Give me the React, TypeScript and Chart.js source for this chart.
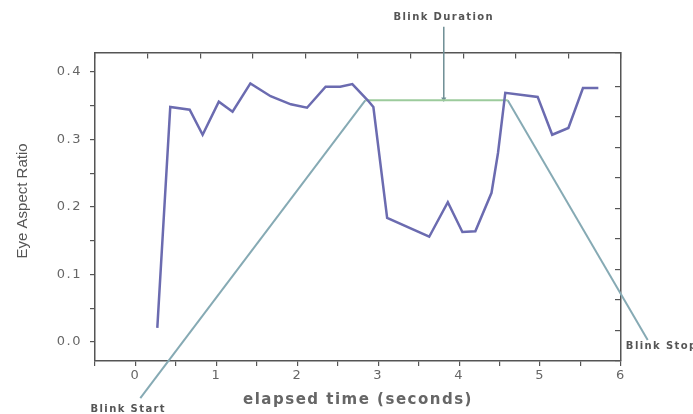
import React, { useEffect, useRef } from "react";
import { Chart, registerables } from "chart.js";

Chart.register(...registerables);

// Eye aspect ratio series
const timeSeconds = [0.27, 0.43, 0.67, 0.83, 1.03, 1.2, 1.42, 1.67, 1.92, 2.12, 2.35, 2.53, 2.68, 2.87, 2.94, 3.11, 3.63, 3.86, 4.04, 4.2, 4.4, 4.48, 4.57, 4.97, 5.15, 5.35, 5.53, 5.72];
const eyeAspectRatio = [0.021, 0.348, 0.344, 0.307, 0.356, 0.341, 0.383, 0.364, 0.352, 0.347, 0.378, 0.378, 0.382, 0.358, 0.348, 0.184, 0.156, 0.207, 0.163, 0.164, 0.221, 0.28, 0.369, 0.363, 0.307, 0.317, 0.376, 0.376];

// Annotation lines
const durationLineX = [2.84, 4.6];
const durationLineY = [0.358, 0.358];
const startLineX = [0.06, 2.84];
const startLineY = [-0.083, 0.358];
const stopLineX = [4.6, 6.33];
const stopLineY = [0.358, 0.003];
const arrowX = [3.81, 3.81];
const arrowY = [0.467, 0.36];

// Annotation labels
const annotationTexts = ["Blink Duration", "Blink Start", "Blink Stop"];
const annotationX = [3.81, -0.556, 6.06];
const annotationY = [0.481, -0.1, -0.007];

// Axes
const xTitle = "elapsed time (seconds)";
const yTitle = "Eye Aspect Ratio";
const xMin = -0.5;
const xMax = 6;
const yMin = -0.028;
const yMax = 0.428;

const zip = (xs: number[], ys: number[]) => xs.map((x, i) => ({ x, y: ys[i] }));

const textPlugin = {
  id: "annotText",
  beforeDraw(chart: any) {
    chart.ctx.letterSpacing = "1.5px";
  },
  afterDraw(chart: any) {
    const { ctx, scales } = chart;
    const xs = scales.x;
    const ys = scales.y;
    ctx.save();
    ctx.letterSpacing = "1.4px";
    ctx.fillStyle = "#555";
    ctx.font = "bold 10px 'DejaVu Sans'";
    ctx.textBaseline = "middle";
    annotationTexts.forEach((t, i) => {
      ctx.textAlign = i === 0 ? "center" : "left";
      ctx.fillText(t, xs.getPixelForValue(annotationX[i]), ys.getPixelForValue(annotationY[i]));
    });
    // y axis title
    ctx.letterSpacing = "0px";
    ctx.font = "15px 'Liberation Sans'";
    ctx.fillStyle = "#555";
    ctx.textAlign = "center";
    ctx.translate(23, ys.getPixelForValue(0.209));
    ctx.rotate(-Math.PI / 2);
    ctx.fillText(yTitle, 0, 0);
    ctx.restore();
  },
};

export default function App() {
  const ref = useRef<HTMLCanvasElement | null>(null);
  useEffect(() => {
    if (!ref.current) return;
    const tickFont = { family: "'DejaVu Sans'", size: 13 };
    const chart = new Chart(ref.current, {
      type: "line",
      data: {
        datasets: [
          {
            data: zip(timeSeconds, eyeAspectRatio),
            borderColor: "#6b6bb0",
            borderWidth: 2.5,
            pointRadius: 0,
            tension: 0,
          },
          {
            data: zip(durationLineX, durationLineY),
            borderColor: "#9ccb9c",
            borderWidth: 2,
            pointRadius: 0,
            clip: false as any,
          },
          {
            data: zip(startLineX, startLineY),
            borderColor: "#86aab4",
            borderWidth: 2,
            pointRadius: 0,
            clip: false as any,
          },
          {
            data: zip(stopLineX, stopLineY),
            borderColor: "#86aab4",
            borderWidth: 2,
            pointRadius: 0,
            clip: false as any,
          },
          {
            data: zip(arrowX, arrowY),
            borderColor: "#6f8f95",
            borderWidth: 1.5,
            pointRadius: [0, 3],
            pointStyle: "triangle",
            rotation: 180,
            pointBackgroundColor: "#6f8f95",
            pointBorderWidth: 0,
            clip: false as any,
          },
        ],
      },
      options: {
        responsive: false,
        animation: false,
        layout: { padding: { left: 0, top: 53, right: 72, bottom: 0 } },
        plugins: { legend: { display: false }, tooltip: { enabled: false } },
        scales: {
          x: {
            type: "linear",
            position: "bottom",
            min: xMin,
            max: xMax,
            afterFit: (s: any) => { s.height = 53; },
            border: { color: "#555", width: 1.5 },
            grid: { drawOnChartArea: false, tickLength: 5, tickColor: "#555", lineWidth: 1.2 },
            ticks: {
              stepSize: 0.5,
              autoSkip: false,
              includeBounds: false,
              padding: 2,
              color: "#666",
              font: tickFont,
              maxRotation: 0,
              callback: (v: any) => (Math.abs(v - Math.round(v)) < 1e-6 ? String(Math.round(v)) : ""),
            },
            title: {
              display: true,
              text: xTitle,
              color: "#666",
              font: { family: "'DejaVu Sans'", size: 15, weight: "bold" },
              padding: { top: 0, bottom: 5 },
            },
          },
          x2: {
            type: "linear",
            axis: "x",
            position: { y: yMax },
            min: 0,
            max: 10,
            border: { color: "#555", width: 1.5 },
            grid: { drawOnChartArea: false, tickLength: 5, tickColor: "#555", lineWidth: 1.2 },
            ticks: { stepSize: 1, display: false },
          },
          y: {
            type: "linear",
            position: "left",
            min: yMin,
            max: yMax,
            afterFit: (s: any) => { s.width = 95; },
            border: { color: "#555", width: 1.5 },
            grid: { drawOnChartArea: false, tickLength: 5, tickColor: "#555", lineWidth: 1.2 },
            ticks: {
              stepSize: 0.05,
              autoSkip: false,
              includeBounds: false,
              padding: 8,
              color: "#666",
              font: tickFont,
              callback: (v: any) => {
                const t = v * 10;
                return Math.abs(t - Math.round(t)) < 1e-6 && v > -0.01 ? (Math.round(t) / 10).toFixed(1) : "";
              },
            },
          },
          y2: {
            type: "linear",
            axis: "y",
            position: { x: xMax },
            min: 0,
            max: 10.1,
            border: { color: "#555", width: 1.5 },
            grid: { drawOnChartArea: false, tickLength: 5, tickColor: "#555", lineWidth: 1.2 },
            ticks: { stepSize: 1, display: false },
          },
        },
      },
      plugins: [textPlugin],
    } as any);
    return () => chart.destroy();
  }, []);
  return (
    <div style={{ position: "absolute", left: 0, top: 0, width: 693, height: 414, background: "#fff" }}>
      <canvas ref={ref} width={693} height={414} style={{ display: "block" }} />
    </div>
  );
}
